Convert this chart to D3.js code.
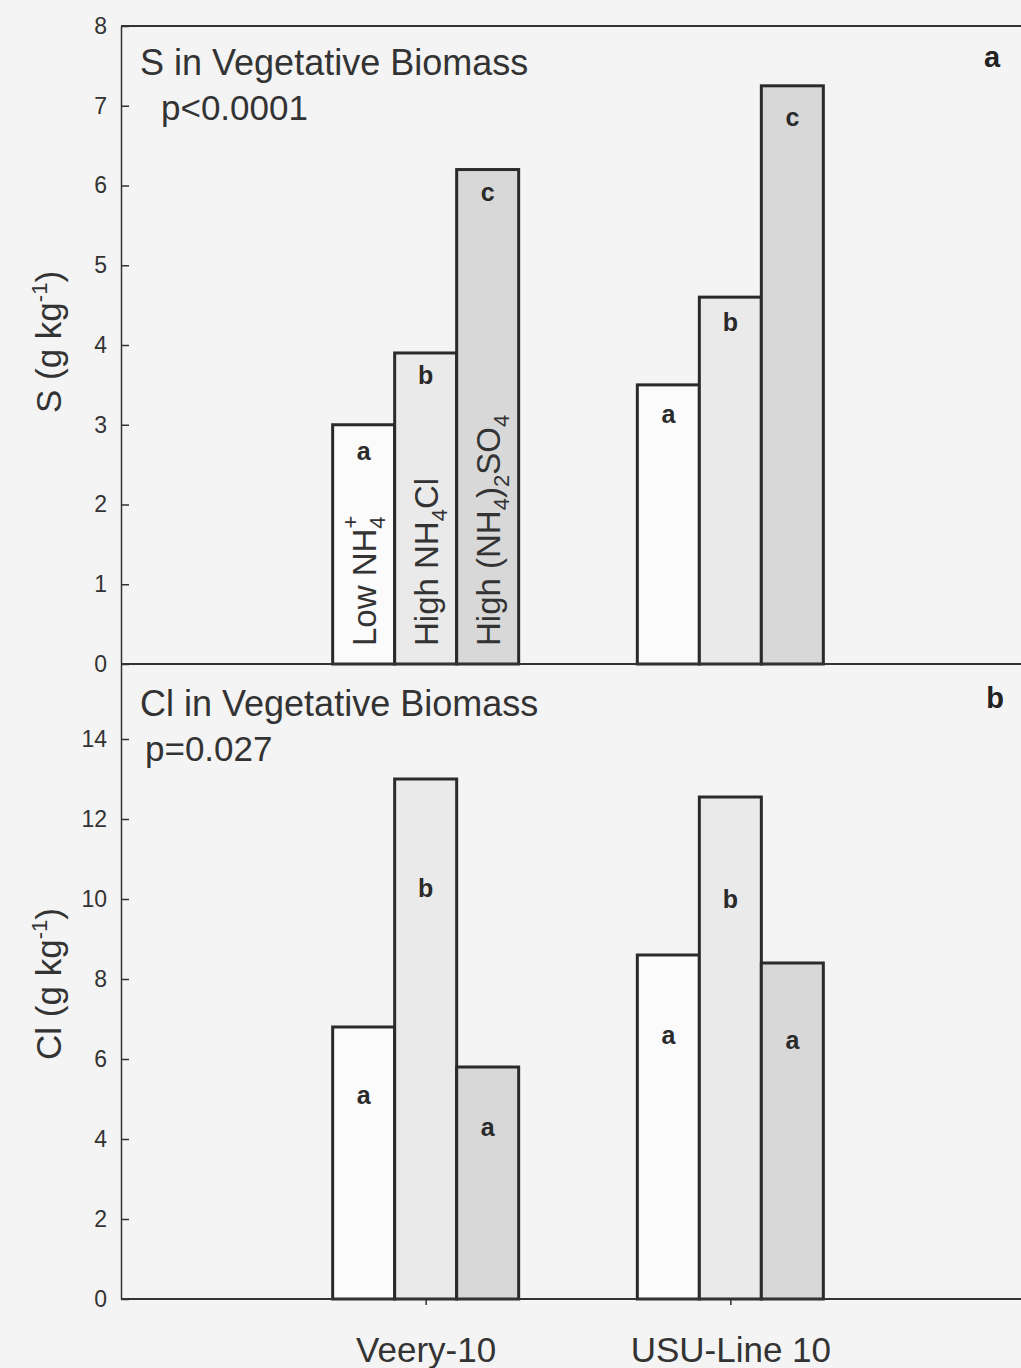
<!DOCTYPE html>
<html>
<head>
<meta charset="utf-8">
<script src="https://cdn.jsdelivr.net/npm/d3@7"></script>
<style>
  body { margin: 0; background: #f4f4f4; }
  svg { display: block; font-family: "Liberation Sans", Arial, sans-serif; }
</style>
</head>
<body>
<svg id="chart" width="1021" height="1368"></svg>
<script>
// cultivars and treatments
const categories = ["Veery-10", "USU-Line 10"];
const treatments = ["low", "highCl", "highSO4"];

// S in vegetative biomass (g/kg), one row per cultivar
const sValues = [[3.0, 3.9, 6.2], [3.5, 4.6, 7.25]];
const sLetters = [["a", "b", "c"], ["a", "b", "c"]];
const sLetterAt = [[2.67, 3.62, 5.92], [3.13, 4.29, 6.86]];
const sTicks = [0, 1, 2, 3, 4, 5, 6, 7, 8];

// Cl in vegetative biomass (g/kg)
const clValues = [[6.8, 13.0, 5.8], [8.6, 12.55, 8.4]];
const clLetters = [["a", "b", "a"], ["a", "b", "a"]];
const clLetterAt = [[5.1, 10.28, 4.3], [6.6, 10.0, 6.48]];
const clTicks = [0, 2, 4, 6, 8, 10, 12, 14];

const fills = ["#fbfbfb", "#eaeaea", "#d8d8d8"];
const ink = "#2a2a2a";

const svg = d3.select("#chart");
svg.append("rect").attr("width", 1021).attr("height", 1368).attr("fill", "#f4f4f4");

const left = 121;
const x = d3.scalePoint().domain(categories).range([left, 1035]).padding(1);
const xSub = d3.scaleBand().domain(treatments).range([-93, 93]);

function drawPanel(opts) {
    const y = d3.scaleLinear().domain(opts.domain).range([opts.bottom, opts.top]);
    const g = svg.append("g");

    // bars
    categories.forEach((c, i) => {
        treatments.forEach((t, j) => {
            const v = opts.values[i][j];
            g.append("rect")
                .attr("x", x(c) + xSub(t))
                .attr("y", y(v))
                .attr("width", xSub.bandwidth())
                .attr("height", y(0) - y(v))
                .attr("fill", fills[j])
                .attr("stroke", ink)
                .attr("stroke-width", 3);
        });
    });

    // significance letters
    categories.forEach((c, i) => {
        treatments.forEach((t, j) => {
            g.append("text")
                .attr("x", x(c) + xSub(t) + xSub.bandwidth() / 2)
                .attr("y", y(opts.letterAt[i][j]))
                .attr("dy", "0.35em")
                .attr("text-anchor", "middle")
                .attr("font-weight", "bold")
                .attr("font-size", 25)
                .attr("fill", ink)
                .text(opts.letters[i][j]);
        });
    });

    // y axis, ticks inside
    const ax = g.append("g")
        .attr("transform", `translate(${left},0)`)
        .call(d3.axisLeft(y).tickValues(opts.ticks).tickSizeInner(-8).tickSizeOuter(0).tickPadding(14));
    ax.attr("font-size", 23).attr("font-family", "Liberation Sans, Arial, sans-serif");
    ax.select(".domain").attr("stroke", "#333").attr("stroke-width", 1.5);
    ax.selectAll(".tick line").attr("stroke", "#333").attr("stroke-width", 1.5);
    ax.selectAll(".tick text").attr("fill", "#333");

    // baseline across the panel
    g.append("line")
        .attr("x1", left).attr("x2", 1021)
        .attr("y1", y(0)).attr("y2", y(0))
        .attr("stroke", "#333").attr("stroke-width", 2);

    // panel title
    g.append("text").attr("x", 140).attr("y", opts.titleY)
        .attr("font-size", 36).attr("fill", "#333").text(opts.title);
    g.append("text").attr("x", opts.pX).attr("y", opts.titleY + 45)
        .attr("font-size", 35).attr("fill", "#333").text(opts.p);

    // panel letter
    g.append("text").attr("x", opts.tagX).attr("y", opts.titleY - 8)
        .attr("text-anchor", "middle").attr("font-weight", "bold")
        .attr("font-size", 29).attr("fill", "#222").text(opts.tag);

    // y title with superscript -1
    const yt = g.append("text")
        .attr("transform", `translate(61,${opts.ytY}) rotate(-90)`)
        .attr("text-anchor", "middle")
        .attr("font-size", 35).attr("fill", "#333");
    yt.append("tspan").text(opts.ytName + " (g kg");
    yt.append("tspan").attr("font-size", 22).attr("dy", -14).text("-1");
    yt.append("tspan").attr("dy", 14).text(")");

    return y;
}

const yS = drawPanel({
    domain: [0, 8], bottom: 664, top: 26,
    values: sValues, letters: sLetters, letterAt: sLetterAt, ticks: sTicks,
    title: "S in Vegetative Biomass", p: "p<0.0001", pX: 161, titleY: 75,
    tag: "a", tagX: 992, ytName: "S", ytY: 342
});

// frame line on top of the upper panel
svg.append("line")
    .attr("x1", left).attr("x2", 1021)
    .attr("y1", yS(8)).attr("y2", yS(8))
    .attr("stroke", "#333").attr("stroke-width", 2);

const yCl = drawPanel({
    domain: [0, 15.875], bottom: 1299, top: 664,
    values: clValues, letters: clLetters, letterAt: clLetterAt, ticks: clTicks,
    title: "Cl in Vegetative Biomass", p: "p=0.027", pX: 145, titleY: 716,
    tag: "b", tagX: 995, ytName: "Cl", ytY: 984
});

// x axis at the bottom
const xAx = svg.append("g")
    .attr("transform", `translate(0,${yCl(0)})`)
    .call(d3.axisBottom(x).tickSizeInner(6).tickSizeOuter(0).tickPadding(32));
xAx.attr("font-size", 35).attr("font-family", "Liberation Sans, Arial, sans-serif");
xAx.select(".domain").remove();
xAx.selectAll(".tick line").attr("stroke", "#333").attr("stroke-width", 1.5);
xAx.selectAll(".tick text").attr("fill", "#333");

// treatment names written up the Veery-10 bars of the upper panel
const barLabel = svg.append("g");
treatments.forEach((t, j) => {
    const cx = x(categories[0]) + xSub(t) + xSub.bandwidth() / 2;
    const txt = barLabel.append("text")
        .attr("transform", `translate(${cx + 12},${yS(0) - 18}) rotate(-90)`)
        .attr("font-size", 33).attr("fill", "#333");
    if (t === "low") {
        txt.append("tspan").text("Low NH");
        txt.append("tspan").attr("font-size", 22).attr("dy", 9).text("4");
        txt.append("tspan").attr("font-size", 22).attr("dx", -12).attr("dy", -27).text("+");
    } else if (t === "highCl") {
        txt.append("tspan").text("High NH");
        txt.append("tspan").attr("font-size", 22).attr("dy", 9).text("4");
        txt.append("tspan").attr("dy", -9).text("Cl");
    } else {
        txt.append("tspan").text("High (NH");
        txt.append("tspan").attr("font-size", 22).attr("dy", 9).text("4");
        txt.append("tspan").attr("dy", -9).text(")");
        txt.append("tspan").attr("font-size", 22).attr("dy", 9).text("2");
        txt.append("tspan").attr("dy", -9).text("SO");
        txt.append("tspan").attr("font-size", 22).attr("dy", 9).text("4");
    }
});
</script>
</body>
</html>
